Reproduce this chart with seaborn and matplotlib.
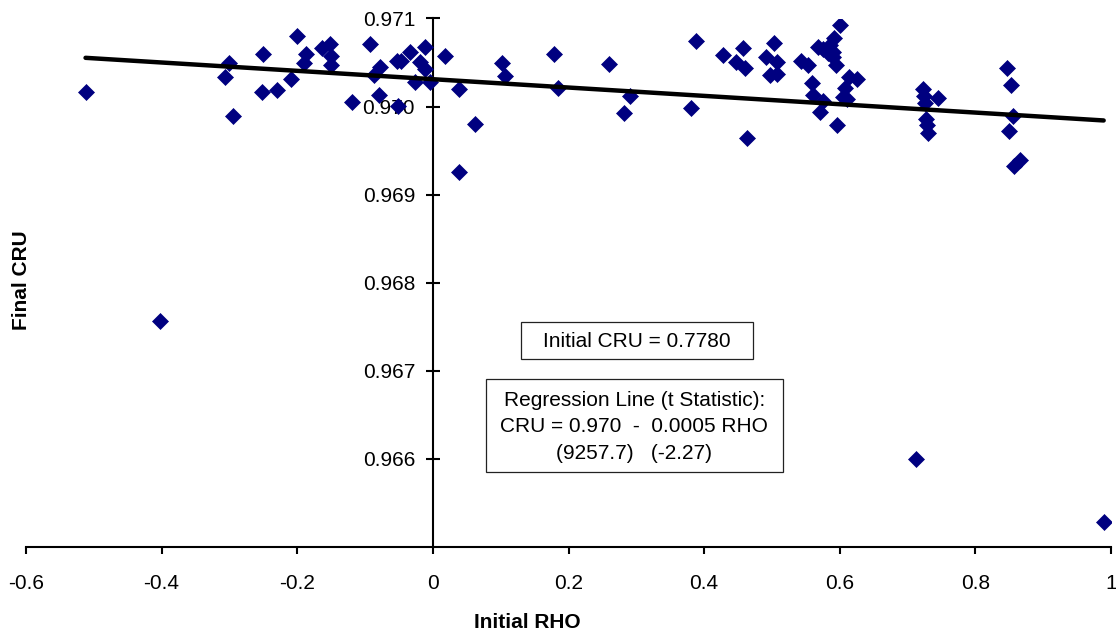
import matplotlib
matplotlib.use("Agg")
import matplotlib.pyplot as plt
from matplotlib.patches import Rectangle
import seaborn as sns
import pandas as pd

# ---- data ----
initial_rho = [
    -0.5122, -0.3013, -0.3072, -0.2954, -0.2507, -0.2000, -0.2522, -0.2295,
    -0.2099, -0.1867, -0.1907, -0.1642, -0.1524, -0.1499, -0.1509, -0.0934,
    -0.1195, -0.0776, -0.0875, -0.0801, -0.0525, -0.0466, -0.0344, -0.0516,
    -0.0265, -0.0118, -0.0196, -0.0122, -0.0049, 0.0173, 0.0383, 0.0615,
    0.0383, 0.1018, 0.1068, 0.1785, 0.1844, 0.2591, 0.2901, 0.2823,
    0.3811, 0.3885, 0.4280, 0.4465, 0.4572, 0.4597, 0.4631, 0.4907,
    0.5025, 0.4966, 0.5069, 0.5069, 0.5434, 0.5531, 0.5586, 0.5605,
    0.5752, 0.5703, 0.5965, 0.6009, 0.5914, 0.5752, 0.5851, 0.5900,
    0.5900, 0.5950, 0.5674, 0.5822, 0.6131, 0.6249, 0.6072, 0.6047,
    0.6106, 0.7227, 0.7237, 0.7448, 0.7252, 0.7271, 0.7289, 0.7301,
    0.8472, 0.8521, 0.8555, 0.8494, 0.8653, 0.8565, -0.4024, 0.7119,
    0.9892,
]
final_cru = [
    0.970167, 0.970492, 0.970333, 0.969895, 0.970594, 0.970805, 0.970170, 0.970189,
    0.970314, 0.970594, 0.970499, 0.970662, 0.970707, 0.970578, 0.970473, 0.970707,
    0.970050, 0.970447, 0.970359, 0.970133, 0.970518, 0.970522, 0.970624, 0.970008,
    0.970283, 0.970673, 0.970503, 0.970427, 0.970283, 0.970575, 0.970201, 0.969807,
    0.969252, 0.970492, 0.970351, 0.970598, 0.970215, 0.970484, 0.970125, 0.969923,
    0.969989, 0.970739, 0.970584, 0.970510, 0.970662, 0.970439, 0.969639, 0.970567,
    0.970726, 0.970359, 0.970501, 0.970374, 0.970522, 0.970473, 0.970265, 0.970133,
    0.970068, 0.969943, 0.969793, 0.970926, 0.970776, 0.970651, 0.970700, 0.970624,
    0.970567, 0.970473, 0.970677, 0.970609, 0.970337, 0.970312, 0.970209, 0.970113,
    0.970082, 0.970201, 0.970121, 0.970093, 0.970039, 0.969853, 0.969793, 0.969694,
    0.970435, 0.970246, 0.969887, 0.969727, 0.969390, 0.969320, 0.967565, 0.965994,
    0.965283,
]

x_ticks = [-0.6, -0.4, -0.2, 0.0, 0.2, 0.4, 0.6, 0.8, 1.0]
x_tick_labels = ["-0.6", "-0.4", "-0.2", "0", "0.2", "0.4", "0.6", "0.8", "1"]
y_ticks = [0.966, 0.967, 0.968, 0.969, 0.970, 0.971]
y_tick_labels = ["0.966", "0.967", "0.968", "0.969", "0.970", "0.971"]

x_label = "Initial RHO"
y_label = "Final CRU"
note_1 = "Initial CRU = 0.7780"
note_2 = "Regression Line (t Statistic):\nCRU = 0.970  -  0.0005 RHO\n(9257.7)   (-2.27)"

# ---- styling ----
sns.set_theme(style="white")
plt.rcParams["font.family"] = ["Liberation Sans", "DejaVu Sans"]
plt.rcParams["text.color"] = "black"

W, H = 1116, 632
fig = plt.figure(figsize=(W / 100, H / 100), dpi=100)

def fx(px):
    return px / W

def fy(py):
    return 1 - py / H

ax_l, ax_r, ax_t, ax_b = 26, 1111, 18.5, 546.7
ax = fig.add_axes([fx(ax_l), fy(ax_b), fx(ax_r - ax_l), (ax_b - ax_t) / H])

df = pd.DataFrame({x_label: initial_rho, y_label: final_cru})
sns.regplot(
    data=df, x=x_label, y=y_label, ax=ax, ci=None, marker="D", color="#000080",
    scatter_kws=dict(s=66, alpha=1, edgecolor="#000080", linewidths=0.5, zorder=3),
    line_kws=dict(color="black", lw=3.2, zorder=4, solid_capstyle="round"),
)

ax.set_xlim(-0.6, 1.0)
ax.set_ylim(0.965, 0.971)
ax.set_xticks(x_ticks)
ax.set_xticklabels(x_tick_labels)
ax.set_yticks(y_ticks)
ax.set_yticklabels(y_tick_labels)
ax.set_xlabel("")
ax.set_ylabel("")

for side in ["top", "right"]:
    ax.spines[side].set_visible(False)
ax.spines["left"].set_position(("data", 0))
for side in ["left", "bottom"]:
    ax.spines[side].set_color("black")
    ax.spines[side].set_linewidth(1.5)

ax.tick_params(axis="y", left=True, direction="inout", length=9.6, width=1.5,
               pad=8, labelsize=15, colors="black")
ax.tick_params(axis="x", bottom=True, direction="out", length=5, width=1.5,
               pad=15, labelsize=15, colors="black")
ax.grid(False)
ax.set_facecolor("white")

# axis titles
fig.text(fx(527.7), fy(622), x_label, ha="center", va="center",
         fontsize=15, fontweight="bold", color="black")
fig.text(fx(22), fy(280), y_label, ha="center", va="center", rotation=90,
         fontsize=15, fontweight="bold", color="black")

# annotation boxes
def box(x0, y0, x1, y1, text, linespacing=1.2):
    fig.add_artist(Rectangle((fx(x0), fy(y1)), fx(x1 - x0), (y1 - y0) / H,
                             transform=fig.transFigure, facecolor="white",
                             edgecolor="#222222", linewidth=0.9, zorder=5))
    fig.text(fx((x0 + x1) / 2), fy((y0 + y1) / 2 + 1), text, ha="center",
             va="center", multialignment="center", fontsize=15,
             linespacing=linespacing, zorder=6, color="black")

box(521, 321.7, 753, 359.3, note_1)
box(486, 379.3, 782.6, 472, note_2, linespacing=1.5)

fig.savefig("out.png", dpi=100)
